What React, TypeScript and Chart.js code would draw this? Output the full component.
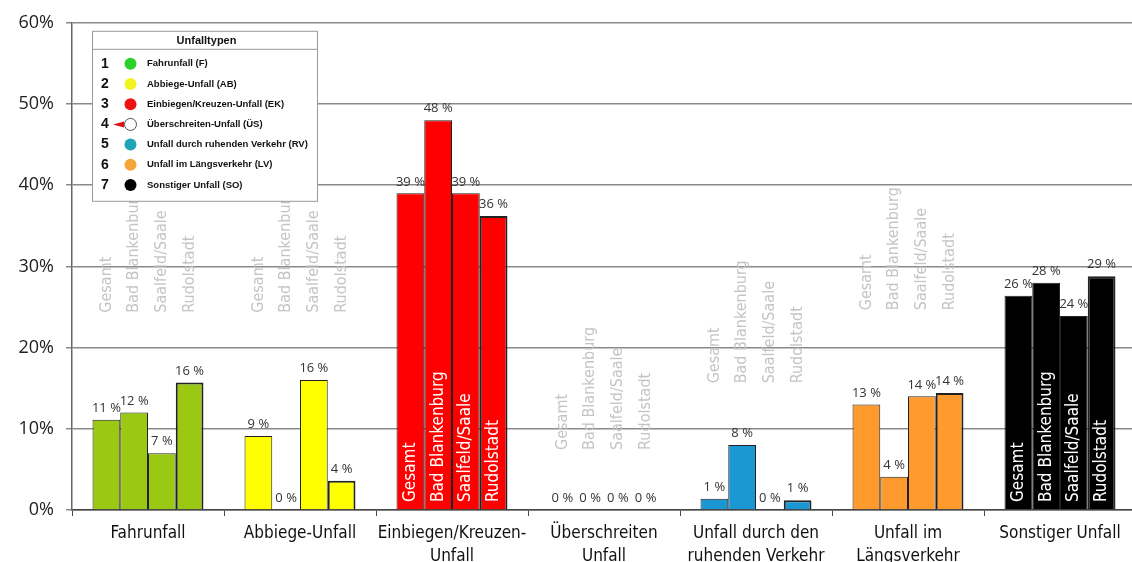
import React, { useEffect, useRef } from 'react';
import { Chart, registerables } from 'chart.js';

Chart.register(...registerables);

const categories: (string | string[])[] = [
  'Fahrunfall',
  'Abbiege-Unfall',
  ['Einbiegen/Kreuzen-', 'Unfall'],
  ['Überschreiten', 'Unfall'],
  ['Unfall durch den', 'ruhenden Verkehr'],
  ['Unfall im', 'Längsverkehr'],
  'Sonstiger Unfall',
];
const seriesNames = ['Gesamt', 'Bad Blankenburg', 'Saalfeld/Saale', 'Rudolstadt'];
const gesamt = [11.1, 9.1, 39.0, 0, 1.4, 13.0, 26.4];
const badBlankenburg = [12.0, 0, 48.0, 0, 8.0, 4.1, 28.0];
const saalfeld = [7.0, 16.0, 39.0, 0, 0, 14.0, 23.9];
const rudolstadt = [15.7, 3.6, 36.2, 0, 1.2, 14.4, 28.8];
const categoryColors = ['#9BC813', '#FFFF00', '#FF0000', '#FFFFFF', '#1B98D4', '#FF9A2E', '#000000'];
const yTickValues = [0, 10, 20, 30, 40, 50, 60];
// where the series names are written: inside the bars or above them (base value in %)
const seriesLabelInside = [false, false, true, false, false, false, true];
const seriesLabelBase: (number | null)[] = [24.3, 24.3, null, 7.4, 15.6, 24.6, null];

const legendTitle = 'Unfalltypen';
const legendNumbers = ['1', '2', '3', '4', '5', '6', '7'];
const legendItems = [
  'Fahrunfall (F)',
  'Abbiege-Unfall (AB)',
  'Einbiegen/Kreuzen-Unfall (EK)',
  'Überschreiten-Unfall (ÜS)',
  'Unfall durch ruhenden Verkehr (RV)',
  'Unfall im Längsverkehr (LV)',
  'Sonstiger Unfall (SO)',
];
const legendColors = ['#2BD12B', '#F2F21E', '#EE1111', '#FFFFFF', '#1FA5B5', '#F5A638', '#000000'];

const seriesValues = [gesamt, badBlankenburg, saalfeld, rudolstadt];

const condensed = '"DejaVu Sans Condensed", "DejaVu Sans", sans-serif';

const overlayPlugin = {
  id: 'overlay',
  afterDatasetsDraw(chart: any) {
    const ctx: CanvasRenderingContext2D = chart.ctx;
    const yScale = chart.scales.y;
    const area = chart.chartArea;

    // value labels
    ctx.save();
    ctx.font = '13px "Open Sans", sans-serif';
    ctx.fillStyle = '#333333';
    ctx.textAlign = 'center';
    ctx.textBaseline = 'bottom';
    chart.data.datasets.forEach((ds: any, di: number) => {
      const meta = chart.getDatasetMeta(di);
      meta.data.forEach((bar: any, i: number) => {
        const v = ds.data[i];
        ctx.fillText(Math.round(v) + ' %', bar.x, bar.y - 5);
      });
    });
    ctx.restore();

    // series names (rotated)
    ctx.save();
    ctx.textAlign = 'left';
    ctx.textBaseline = 'middle';
    categories.forEach((_c, i) => {
      chart.data.datasets.forEach((_ds: any, di: number) => {
        const bar = chart.getDatasetMeta(di).data[i];
        let baseY: number;
        if (seriesLabelInside[i]) {
          baseY = yScale.getPixelForValue(0) - 8;
          ctx.fillStyle = '#FFFFFF';
          ctx.font = '17px ' + condensed;
        } else {
          baseY = yScale.getPixelForValue(seriesLabelBase[i] as number);
          ctx.fillStyle = '#C4C4C4';
          ctx.font = '16px ' + condensed;
        }
        ctx.save();
        ctx.translate(bar.x, baseY);
        ctx.rotate(-Math.PI / 2);
        ctx.fillText(seriesNames[di], 0, 0);
        ctx.restore();
      });
    });
    ctx.restore();

    // legend box
    const bx = area.left + 20;
    const by = area.top + 8;
    const bw = 225;
    const bh = 170;
    ctx.save();
    ctx.fillStyle = '#FFFFFF';
    ctx.fillRect(bx, by, bw, bh);
    ctx.strokeStyle = '#9a9a9a';
    ctx.lineWidth = 1;
    ctx.strokeRect(bx + 0.5, by + 0.5, bw, bh);
    ctx.beginPath();
    ctx.moveTo(bx, by + 18.5);
    ctx.lineTo(bx + bw, by + 18.5);
    ctx.stroke();
    ctx.fillStyle = '#111';
    ctx.font = 'bold 11px "Liberation Sans", Arial, sans-serif';
    ctx.textAlign = 'center';
    ctx.textBaseline = 'middle';
    ctx.fillText(legendTitle, bx + bw / 2 + 2, by + 10);
    legendItems.forEach((item, k) => {
      const ry = by + 33 + k * 20.2;
      ctx.fillStyle = '#111';
      ctx.font = 'bold 14px "Liberation Sans", Arial, sans-serif';
      ctx.textAlign = 'center';
      ctx.fillText(legendNumbers[k], bx + 13, ry);
      ctx.beginPath();
      ctx.arc(bx + 38.5, ry, 6, 0, Math.PI * 2);
      ctx.fillStyle = legendColors[k];
      ctx.fill();
      if (legendColors[k] === '#FFFFFF') {
        ctx.strokeStyle = '#555';
        ctx.lineWidth = 1;
        ctx.stroke();
        ctx.fillStyle = '#DD1111';
        ctx.beginPath();
        ctx.moveTo(bx + 21, ry);
        ctx.lineTo(bx + 32, ry - 3);
        ctx.lineTo(bx + 32, ry + 3);
        ctx.closePath();
        ctx.fill();
      }
      ctx.fillStyle = '#111';
      ctx.font = 'bold 9.5px "Liberation Sans", Arial, sans-serif';
      ctx.textAlign = 'left';
      ctx.fillText(item, bx + 55, ry);
    });
    ctx.restore();
  },
};

export default function App() {
  const ref = useRef<HTMLCanvasElement | null>(null);
  useEffect(() => {
    document.body.style.margin = '0';
    document.body.style.overflow = 'hidden';
    const canvas = ref.current!;
    const chart = new Chart(canvas, {
      type: 'bar',
      data: {
        labels: categories as any,
        datasets: seriesValues.map((vals, di) => ({
          label: seriesNames[di],
          data: vals,
          backgroundColor: categoryColors,
          borderColor: '#222222',
          borderWidth: di === 3 ? 2 : 1,
          categoryPercentage: 0.73,
          barPercentage: 1,
        })),
      },
      options: {
        responsive: false,
        animation: false,
        devicePixelRatio: 1,
        layout: { padding: { top: 22, left: 0, right: 0, bottom: 0 } },
        plugins: {
          legend: { display: false },
          tooltip: { enabled: false },
        },
        scales: {
          x: {
            grid: { drawOnChartArea: false, drawTicks: true, tickLength: 6, color: '#444', offset: true },
            border: { color: '#444', width: 1.5 },
            ticks: {
              color: '#111',
              font: { family: condensed, size: 17, lineHeight: 1.3 },
              padding: 7,
              maxRotation: 0,
              autoSkip: false,
            },
            afterFit: (s: any) => {
              s.height = 52;
            },
          },
          y: {
            min: 0,
            max: 60,
            afterBuildTicks: (s: any) => {
              s.ticks = yTickValues.map((v) => ({ value: v }));
            },
            grid: { color: '#8a8a8a', lineWidth: 1.5, tickLength: 6 },
            border: { color: '#666', width: 1.5 },
            ticks: {
              color: '#222',
              font: { family: '"Open Sans", sans-serif', size: 18 },
              padding: 12,
              callback: (v: any) => v + '%',
            },
            afterFit: (s: any) => {
              s.width = 72;
            },
          },
        },
      },
      plugins: [overlayPlugin],
    });
    return () => chart.destroy();
  }, []);
  return (
    <div style={{ width: 1136, height: 562 }}>
      <canvas ref={ref} width={1136} height={562} style={{ display: 'block' }} />
    </div>
  );
}
